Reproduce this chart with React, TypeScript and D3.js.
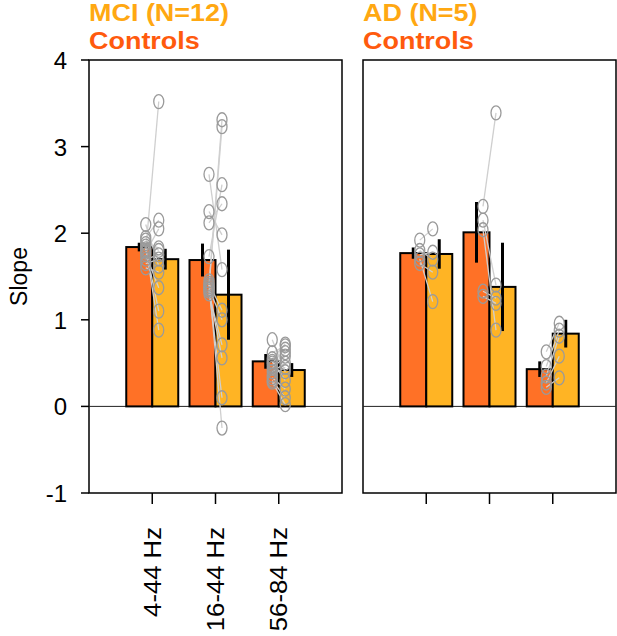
import React from 'react';
import * as d3 from 'd3';

// frequency bands on the x axis
const bands = ['4-44 Hz', '16-44 Hz', '56-84 Hz'];
const yTicks = [-1, 0, 1, 2, 3, 4];

const panelNames = ['MCI (N=12)', 'AD (N=5)'];

// bar means and SEM, controls vs patients
const mciControlMean = [1.84, 1.69, 0.52];
const mciControlSem = [0.05, 0.19, 0.085];
const mciPatientMean = [1.70, 1.29, 0.42];
const mciPatientSem = [0.12, 0.52, 0.08];

const adControlMean = [1.77, 2.01, 0.43];
const adControlSem = [0.065, 0.35, 0.09];
const adPatientMean = [1.76, 1.38, 0.84];
const adPatientSem = [0.17, 0.51, 0.16];

// individual pairs (control[i] <-> patient[i]) per band
const mciControlPts = [
  [1.80, 2.10, 1.95, 1.88, 1.85, 1.82, 1.78, 1.75, 1.70, 1.65, 1.60, 1.92],
  [1.40, 1.38, 2.68, 2.25, 2.12, 1.73, 1.45, 1.35, 1.33, 1.42, 1.30, 1.36],
  [0.77, 0.62, 0.55, 0.50, 0.47, 0.44, 0.40, 0.36, 0.33, 0.30, 0.28, 0.52],
];
const mciPatientPts = [
  [3.52, 1.62, 2.15, 1.83, 0.88, 1.10, 2.05, 1.37, 1.75, 1.70, 1.55, 1.80],
  [3.31, 3.23, 1.58, 1.98, 2.34, 2.56, -0.25, 0.10, 0.56, 1.11, 0.71, 1.00],
  [0.40, 0.70, 0.72, 0.66, 0.62, 0.58, 0.50, 0.45, 0.20, 0.10, 0.02, 0.30],
];
const adControlPts = [
  [1.92, 1.80, 1.75, 1.70, 1.65],
  [2.31, 2.15, 2.04, 1.33, 1.27],
  [0.63, 0.46, 0.35, 0.27, 0.22],
];
const adPatientPts = [
  [2.05, 1.70, 1.78, 1.21, 1.55],
  [3.39, 1.40, 0.88, 1.25, 1.19],
  [0.96, 0.88, 0.81, 0.58, 0.33],
];

const ORANGE = '#ff7126';
const YELLOW = '#ffb424';
const TITLE_YELLOW = '#ffa812';
const TITLE_ORANGE = '#ff5a0d';
const FONT = '"Liberation Sans", Arial, sans-serif';

const top = 60;
const bottom = 493;
const panelW = 253;
const panelLefts = [89, 363];

const y = d3.scaleLinear().domain([-1, 4]).range([bottom, top]);
const x = d3.scalePoint<string>().domain(bands).range([0, panelW]).padding(1);
const xBar = d3.scaleBand<string>().domain(['control', 'patient']).range([-26, 26]);
const xPt = d3.scalePoint<string>().domain(['control', 'patient']).range([-6.5, 6.5]);

interface PanelProps {
  left: number;
  name: string;
  cMean: number[];
  cSem: number[];
  pMean: number[];
  pSem: number[];
  cPts: number[][];
  pPts: number[][];
  showLabels: boolean;
}

const Panel: React.FC<PanelProps> = ({ left, name, cMean, cSem, pMean, pSem, cPts, pPts, showLabels }) => {
  const bw = xBar.bandwidth();
  return (
    <g transform={`translate(${left},0)`}>
      <text transform="translate(0,21) scale(1.1,1)" fontFamily={FONT} fontWeight="bold" fontSize={24.5} fill={TITLE_YELLOW}>{name}</text>
      <text transform="translate(0,49) scale(1.1,1)" fontFamily={FONT} fontWeight="bold" fontSize={24.5} fill={TITLE_ORANGE}>Controls</text>

      <rect x={0} y={top} width={panelW} height={bottom - top} fill="none" stroke="#000" strokeWidth={1.5} />
      <line x1={0} x2={panelW} y1={y(0)} y2={y(0)} stroke="#222" strokeWidth={1} />

      {bands.map((b, i) => {
        const cx = x(b) as number;
        const series = [
          { key: 'control', mean: cMean[i], sem: cSem[i], fill: ORANGE },
          { key: 'patient', mean: pMean[i], sem: pSem[i], fill: YELLOW },
        ];
        return (
          <g key={b} transform={`translate(${cx},0)`}>
            {series.map(s => (
              <rect key={s.key} x={xBar(s.key)} y={y(s.mean)} width={bw} height={y(0) - y(s.mean)}
                fill={s.fill} stroke="#000" strokeWidth={2} />
            ))}
            {series.map(s => (
              <line key={s.key} x1={(xBar(s.key) as number) + bw / 2} x2={(xBar(s.key) as number) + bw / 2}
                y1={y(s.mean + s.sem)} y2={y(s.mean - s.sem)} stroke="#000" strokeWidth={3} />
            ))}
            {cPts[i].map((v, j) => (
              <line key={`l${j}`} x1={xPt('control')} x2={xPt('patient')} y1={y(v)} y2={y(pPts[i][j])}
                stroke="#cfcfcf" strokeWidth={1.3} />
            ))}
            {cPts[i].map((v, j) => (
              <ellipse key={`c${j}`} cx={xPt('control')} cy={y(v)} rx={5} ry={7}
                fill="none" stroke="#9a9a9a" strokeWidth={1.3} />
            ))}
            {pPts[i].map((v, j) => (
              <ellipse key={`p${j}`} cx={xPt('patient')} cy={y(v)} rx={5} ry={7}
                fill="none" stroke="#9a9a9a" strokeWidth={1.3} />
            ))}
            <line x1={0} x2={0} y1={bottom} y2={bottom + 11} stroke="#000" strokeWidth={1.5} />
            {showLabels && (
              <text transform={`translate(8.5,527) rotate(-90) scale(1.07,1)`} textAnchor="end"
                fontFamily={FONT} fontSize={24} fill="#000">{b}</text>
            )}
          </g>
        );
      })}
    </g>
  );
};

export default function App() {
  const axisX = panelLefts[0];
  return (
    <svg width={617} height={636} style={{ position: 'absolute', left: 0, top: 0, background: '#fff' }}>
      <rect width={617} height={636} fill="#fff" />
      <Panel left={panelLefts[0]} name={panelNames[0]} cMean={mciControlMean} cSem={mciControlSem}
        pMean={mciPatientMean} pSem={mciPatientSem} cPts={mciControlPts} pPts={mciPatientPts} showLabels />
      <Panel left={panelLefts[1]} name={panelNames[1]} cMean={adControlMean} cSem={adControlSem}
        pMean={adPatientMean} pSem={adPatientSem} cPts={adControlPts} pPts={adPatientPts} showLabels={false} />

      {yTicks.map(t => (
        <g key={t}>
          <line x1={axisX - 8} x2={axisX} y1={y(t)} y2={y(t)} stroke="#000" strokeWidth={1.5} />
          <text x={axisX - 22} y={y(t) + 9} textAnchor="end"
            fontFamily={FONT} fontSize={24} fill="#000">{t}</text>
        </g>
      ))}
      <text transform={`translate(27,${(top + bottom) / 2}) rotate(-90)`} textAnchor="middle"
        fontFamily={FONT} fontSize={23} fill="#000">Slope</text>
    </svg>
  );
}
